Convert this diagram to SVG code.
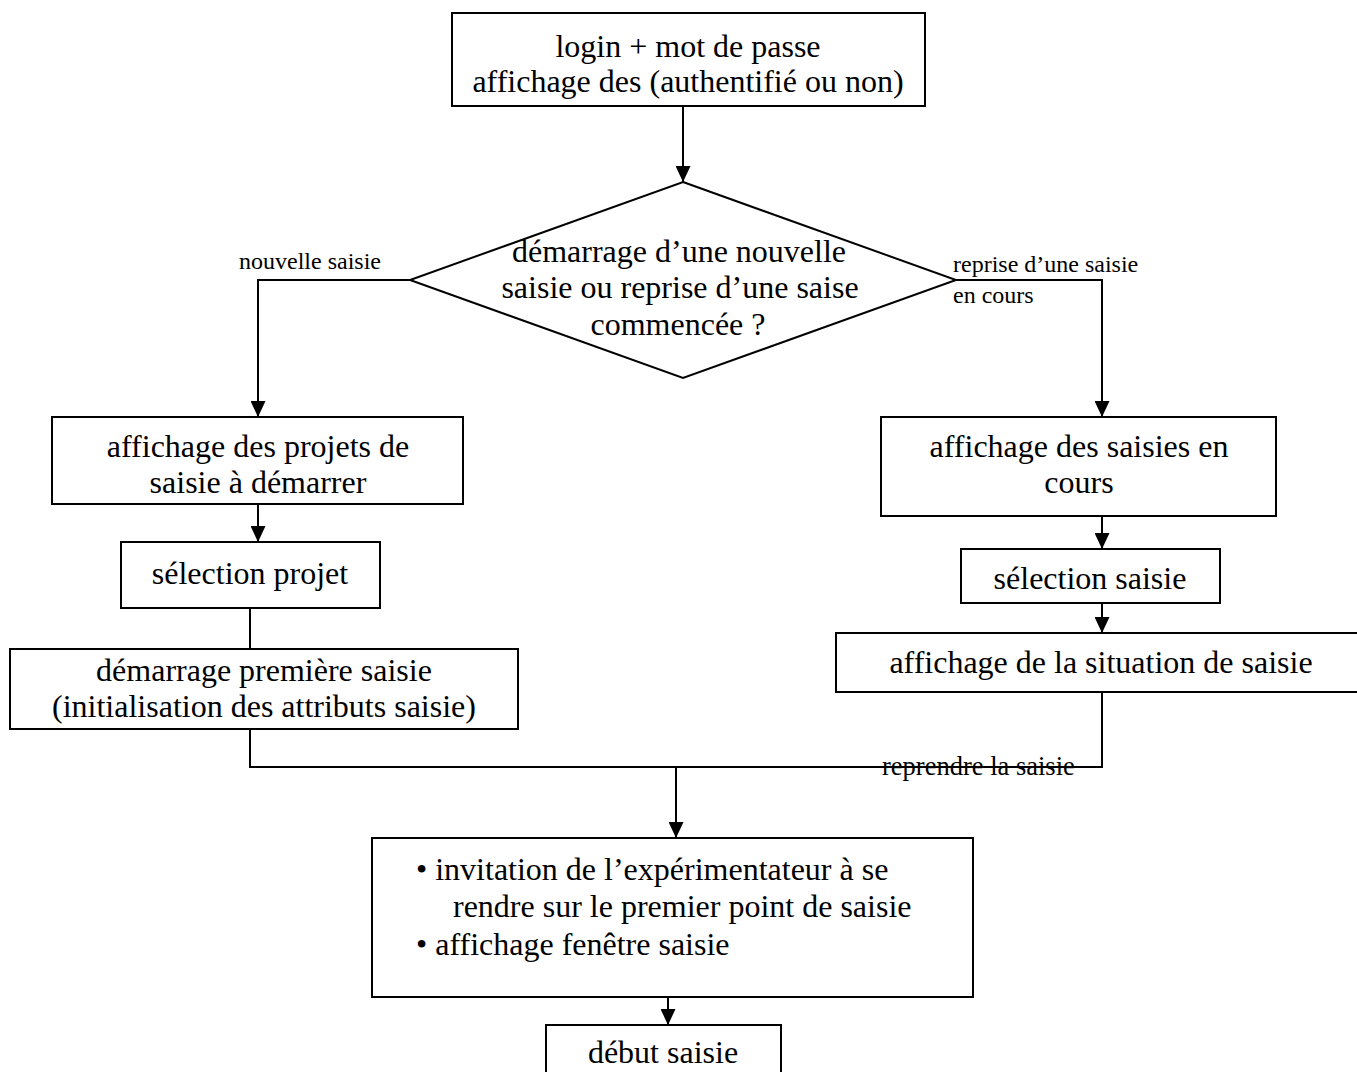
<svg xmlns="http://www.w3.org/2000/svg" width="1357" height="1072" viewBox="0 0 1357 1072">
<defs>
<marker id="arr" markerWidth="16" markerHeight="15" refX="16" refY="7.5" orient="auto" markerUnits="userSpaceOnUse">
<path d="M0,0 L16,7.5 L0,15 Z" fill="#000"/>
</marker>
<style>
.box{fill:#fff;stroke:#000;stroke-width:2}
.t{font-family:"Liberation Serif","Times New Roman",serif;font-size:32px;fill:#000}
.c{text-anchor:middle}
.lbl{font-family:"Liberation Serif","Times New Roman",serif;font-size:24px;fill:#000}
.ln{fill:none;stroke:#000;stroke-width:2}
</style>
</defs>
<rect width="1357" height="1072" fill="#fff"/>
<g id="connectors">
<line class="ln" x1="683" y1="106" x2="683" y2="182" marker-end="url(#arr)"/>
<polyline class="ln" points="410,280 258,280 258,417" marker-end="url(#arr)"/>
<polyline class="ln" points="956,280 1102,280 1102,417" marker-end="url(#arr)"/>
<line class="ln" x1="258" y1="504" x2="258" y2="542" marker-end="url(#arr)"/>
<line class="ln" x1="250" y1="608" x2="250" y2="649"/>
<line class="ln" x1="1102" y1="516" x2="1102" y2="549" marker-end="url(#arr)"/>
<line class="ln" x1="1102" y1="603" x2="1102" y2="633" marker-end="url(#arr)"/>
<polyline class="ln" points="250,729 250,767 1102,767 1102,692"/>
<line class="ln" x1="676" y1="767" x2="676" y2="838" marker-end="url(#arr)"/>
<line class="ln" x1="668" y1="997" x2="668" y2="1025" marker-end="url(#arr)"/>
<text class="lbl" x="239" y="269">nouvelle saisie</text>
<text class="lbl" x="953" y="272">reprise d’une saisie</text>
<text class="lbl" x="953" y="303">en cours</text>
<text class="lbl" x="882" y="775" style="font-size:26.5px">reprendre la saisie</text>
</g>
<g id="login">
<rect class="box" x="452" y="13" width="473" height="93"/>
<text class="t c" x="688" y="57">login + mot de passe</text>
<text class="t c" x="688" y="92">affichage des (authentifié ou non)</text>
</g>
<g id="decision">
<polygon class="box" points="683,182 956,280 683,378 410,280"/>
<text class="t c" x="679" y="262">démarrage d’une nouvelle</text>
<text class="t c" x="680" y="298">saisie ou reprise d’une saise</text>
<text class="t c" x="678" y="335">commencée ?</text>
</g>
<g id="projets">
<rect class="box" x="52" y="417" width="411" height="87"/>
<text class="t c" x="258" y="457">affichage des projets de</text>
<text class="t c" x="258" y="493">saisie à démarrer</text>
</g>
<g id="selprojet">
<rect class="box" x="121" y="542" width="259" height="66"/>
<text class="t c" x="250" y="584">sélection projet</text>
</g>
<g id="demarrage">
<rect class="box" x="10" y="649" width="508" height="80"/>
<text class="t c" x="264" y="681">démarrage première saisie</text>
<text class="t c" x="264" y="717">(initialisation des attributs saisie)</text>
</g>
<g id="saisies">
<rect class="box" x="881" y="417" width="395" height="99"/>
<text class="t c" x="1079" y="457">affichage des saisies en</text>
<text class="t c" x="1079" y="493">cours</text>
</g>
<g id="selsaisie">
<rect class="box" x="961" y="549" width="259" height="54"/>
<text class="t c" x="1090" y="589">sélection saisie</text>
</g>
<g id="situation">
<rect class="box" x="836" y="633" width="532" height="59"/>
<text class="t c" x="1101" y="673">affichage de la situation de saisie</text>
</g>
<g id="invitation">
<rect class="box" x="372" y="838" width="601" height="159"/>
<text class="t" x="416" y="880">• invitation de l’expérimentateur à se</text>
<text class="t" x="453" y="917">rendre sur le premier point de saisie</text>
<text class="t" x="416" y="955">• affichage fenêtre saisie</text>
</g>
<g id="debut">
<rect class="box" x="546" y="1025" width="235" height="60"/>
<text class="t c" x="663" y="1063">début saisie</text>
</g>
</svg>
